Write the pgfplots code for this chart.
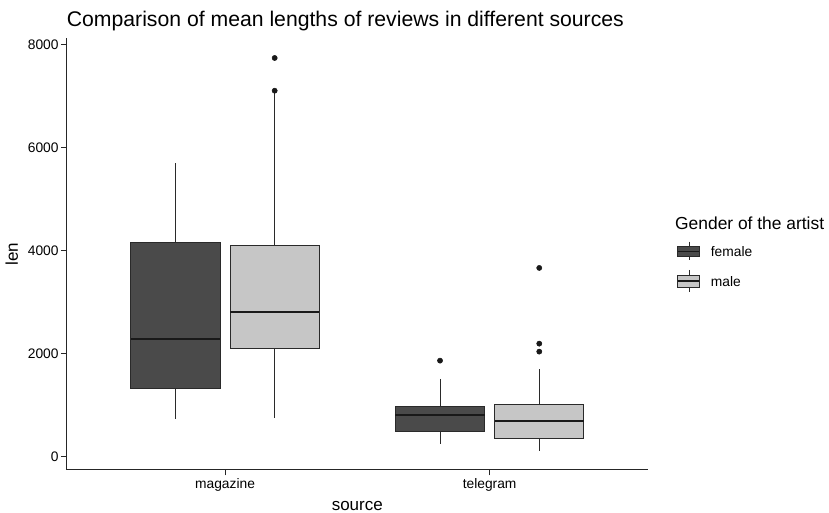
\documentclass[border=0pt]{standalone}
\usepackage{pgfplots}
\pgfplotsset{compat=1.18}
\usepgfplotslibrary{statistics}
\usepackage{fontspec}
\setmainfont{Liberation Sans}
\definecolor{darkbox}{HTML}{4A4A4A}
\definecolor{lightbox}{HTML}{C6C6C6}
\definecolor{edge}{HTML}{2A2A2A}

\begin{document}
\begin{tikzpicture}
\useasboundingbox (-66.3pt,-43pt) rectangle (762.7pt,470pt);
\begin{axis}[
    scale only axis,
    width=582.1pt, height=431.7pt,
    at={(0pt,0pt)}, anchor=south west,
    xmin=0.4, xmax=2.6, ymin=-260, ymax=8117,
    axis lines*=left,
    axis line style={black!85, line width=1pt},
    tick align=outside,
    major tick length=5.5pt,
    tick style={black!85, line width=0.9pt},
    xtick={1,2}, xticklabels={magazine,telegram},
    ytick={0,2000,4000,6000,8000},
    /pgf/number format/assume math mode=true,
    /pgf/number format/set thousands separator={},
    ticklabel style={font=\fontsize{13.8}{16}\selectfont, text=black},
    yticklabel style={inner sep=2pt},
    xticklabel style={inner sep=3pt},
    boxplot/draw direction=y,
    boxplot/whisker extend=0,
    boxplot/box extend=0.3375,
    boxplot/every median/.style={line width=1.7pt, draw=black!90},
    every axis plot/.append style={line width=0.85pt},
  ]
  % magazine, female
  \addplot[boxplot prepared={draw position=0.8125,
      lower whisker=731, lower quartile=1319, median=2278,
      upper quartile=4165, upper whisker=5692},
    draw=edge, fill=darkbox] table[row sep=\\, y index=0] {data\\};
  % magazine, male
  \addplot[boxplot prepared={draw position=1.1875,
      lower whisker=745, lower quartile=2103, median=2801,
      upper quartile=4107, upper whisker=7080},
    draw=edge, fill=lightbox, mark=*, mark size=2.6pt,
    mark options={draw=black!90, fill=black!90, line width=0.5pt}]
    table[row sep=\\, y index=0] {data\\ 7100\\ 7735\\};
  % telegram, female
  \addplot[boxplot prepared={draw position=1.8125,
      lower whisker=246, lower quartile=479, median=809,
      upper quartile=978, upper whisker=1507},
    draw=edge, fill=darkbox, mark=*, mark size=2.6pt,
    mark options={draw=black!90, fill=black!90, line width=0.5pt}]
    table[row sep=\\, y index=0] {data\\ 1862\\};
  % telegram, male
  \addplot[boxplot prepared={draw position=2.1875,
      lower whisker=116, lower quartile=343, median=693,
      upper quartile=1009, upper whisker=1696},
    draw=edge, fill=lightbox, mark=*, mark size=2.6pt,
    mark options={draw=black!90, fill=black!90, line width=0.5pt}]
    table[row sep=\\, y index=0] {data\\ 2037\\ 2192\\ 3661\\};
\end{axis}

% title and axis titles
\node[anchor=base west, inner sep=0, font=\fontsize{21.2}{25}\selectfont, text=black]
  at (0.4pt,443.3pt) {Comparison of mean lengths of reviews in different sources};
\node[inner sep=0, font=\fontsize{17}{20}\selectfont, text=black] at (291pt,-36.5pt) {source};
\node[rotate=90, inner sep=0, font=\fontsize{17}{20}\selectfont, text=black] at (-54.5pt,215.8pt) {len};

% legend
\node[anchor=west, inner sep=0, font=\fontsize{17.4}{20}\selectfont, text=black]
  at (608.7pt,247pt) {Gender of the artist};
\draw[edge, line width=0.8pt] (622.7pt,228.3pt) -- (622.7pt,210pt);
\filldraw[fill=darkbox, draw=edge, line width=0.8pt] (611.4pt,223.3pt) rectangle (633pt,214pt);
\draw[black!90, line width=1.3pt] (611.4pt,218.7pt) -- (633pt,218.7pt);
\draw[edge, line width=0.8pt] (622.7pt,200pt) -- (622.7pt,177.7pt);
\filldraw[fill=lightbox, draw=edge, line width=0.8pt] (611.4pt,195pt) rectangle (633pt,182.7pt);
\draw[black!90, line width=1.3pt] (611.4pt,189pt) -- (633pt,189pt);
\node[anchor=west, inner sep=0, font=\fontsize{13.8}{16}\selectfont, text=black]
  at (644.4pt,218pt) {female};
\node[anchor=west, inner sep=0, font=\fontsize{13.8}{16}\selectfont, text=black]
  at (644.4pt,188.5pt) {male};
\end{tikzpicture}
\end{document}
